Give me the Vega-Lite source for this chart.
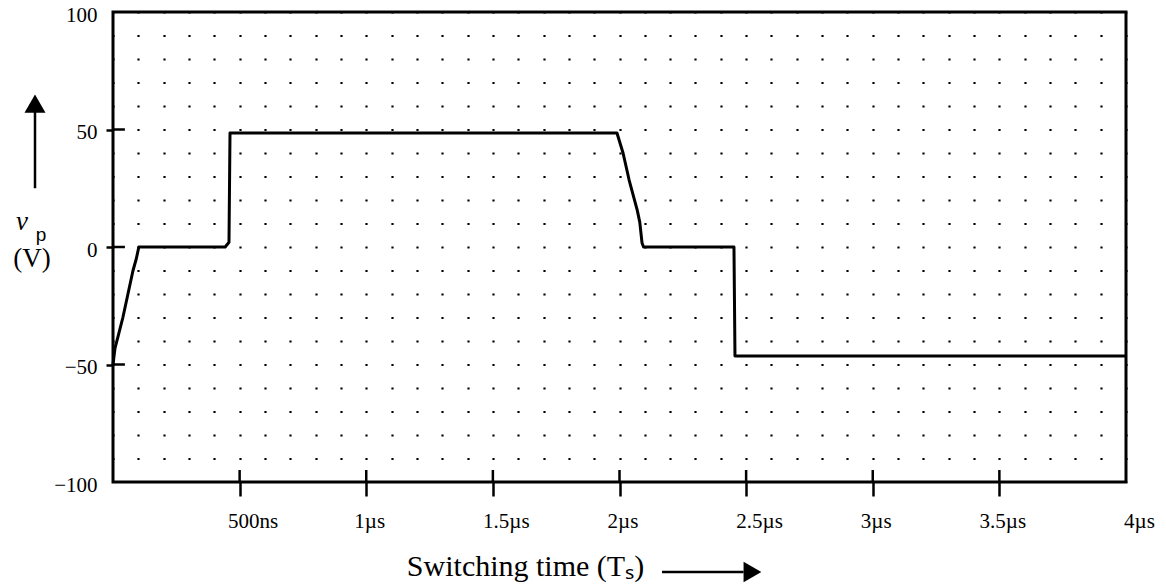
{
  "$schema": "https://vega.github.io/schema/vega-lite/v6.json",
  "width": 1013,
  "height": 470,
  "autosize": {"type": "none"},
  "padding": {"left": 113, "top": 12, "right": 40, "bottom": 103},
  "background": "white",
  "config": {"view": {"stroke": "black", "strokeWidth": 3}, "font": "Liberation Serif"},
  "datasets": {
    "wave": [
      {"t": 0, "v": -50}, {"t": 0.008, "v": -43}, {"t": 0.02, "v": -38}, {"t": 0.039, "v": -30},
      {"t": 0.059, "v": -20}, {"t": 0.079, "v": -10}, {"t": 0.092, "v": -5}, {"t": 0.102, "v": 0},
      {"t": 0.443, "v": 0}, {"t": 0.458, "v": 2}, {"t": 0.462, "v": 48.5}, {"t": 1.99, "v": 48.5},
      {"t": 2.014, "v": 40}, {"t": 2.038, "v": 28.5}, {"t": 2.07, "v": 15.7}, {"t": 2.08, "v": 10.6},
      {"t": 2.089, "v": 1.7}, {"t": 2.095, "v": 0}, {"t": 2.452, "v": 0}, {"t": 2.456, "v": -46.4},
      {"t": 4, "v": -46.4}
    ],
    "xticks": [{"t": 0.5}, {"t": 1}, {"t": 1.5}, {"t": 2}, {"t": 2.5}, {"t": 3}, {"t": 3.5}],
    "yticks": [{"v": 50}, {"v": 0}, {"v": -50}]
  },
  "layer": [
    {
      "data": {"name": "wave"},
      "mark": {"type": "line", "color": "black", "strokeWidth": 3, "strokeJoin": "round"},
      "encoding": {
        "x": {
          "field": "t", "type": "quantitative",
          "scale": {"domain": [0, 4], "nice": false, "zero": false},
          "axis": {
            "values": [0, 0.1, 0.2, 0.3, 0.4, 0.5, 0.6, 0.7, 0.8, 0.9, 1, 1.1, 1.2, 1.3, 1.4, 1.5, 1.6, 1.7, 1.8, 1.9, 2, 2.1, 2.2, 2.3, 2.4, 2.5, 2.6, 2.7, 2.8, 2.9, 3, 3.1, 3.2, 3.3, 3.4, 3.5, 3.6, 3.7, 3.8, 3.9, 4],
            "tickCount": 200,
            "domain": false,
            "grid": true, "gridColor": "#000000", "gridWidth": 2.2, "gridDash": [2.2, 21.3], "gridDashOffset": 1.1,
            "ticks": true, "tickSize": 14, "tickWidth": 2.5, "tickColor": "black",
            "tickOpacity": {"condition": {"test": "datum.value*2 == round(datum.value*2) && datum.value > 0.1 && datum.value < 3.9", "value": 1}, "value": 0},
            "labelExpr": "datum.value == 0.5 ? '500ns' : (datum.value >= 1 && datum.value*2 == round(datum.value*2) ? format(datum.value, '~g') + 'µs' : '')",
            "labelFont": "Liberation Serif", "labelFontSize": 21, "labelColor": "black",
            "labelPadding": 14, "labelBaseline": "top", "labelAlign": "center",
            "labelOffset": {"condition": {"test": "datum.value == 0.5 || datum.value == 1.5 || datum.value == 2.5 || datum.value == 4", "value": 13}, "value": 3},
            "labelOverlap": false, "labelFlush": false,
            "title": "Switching time (Tₛ)", "titleFont": "Liberation Serif", "titleFontSize": 30,
            "titleFontWeight": "normal", "titleColor": "black", "titleX": 412, "titleY": 93,
            "titleAlign": "center", "titleBaseline": "alphabetic"
          }
        },
        "y": {
          "field": "v", "type": "quantitative",
          "scale": {"domain": [-100, 100], "nice": false, "zero": false},
          "axis": {
            "values": [-100, -50, 0, 50, 100],
            "tickCount": 20,
            "domain": false, "grid": false,
            "tickSize": 7, "tickWidth": 2.5, "tickColor": "black",
            "tickOpacity": {"condition": {"test": "abs(datum.value) == 100", "value": 0}, "value": 1},
            "labelFont": "Liberation Serif", "labelFontSize": 21, "labelPadding": 9, "labelColor": "black",
            "labelOffset": 3,
            "labelOverlap": false, "labelFlush": false,
            "title": null
          }
        }
      }
    },
    {
      "data": {"name": "xticks"},
      "mark": {"type": "rule", "color": "black", "strokeWidth": 2.5},
      "encoding": {
        "x": {"field": "t", "type": "quantitative"},
        "y": {"datum": -100},
        "y2": {"datum": -94.9}
      }
    },
    {
      "data": {"name": "yticks"},
      "mark": {"type": "rule", "color": "black", "strokeWidth": 2.5},
      "encoding": {
        "y": {"field": "v", "type": "quantitative"},
        "x": {"datum": 0},
        "x2": {"datum": 0.047}
      }
    },
    {
      "data": {"values": [{}]},
      "mark": {"type": "rule", "color": "black", "strokeWidth": 2.5},
      "encoding": {"x": {"datum": -0.308}, "y": {"datum": 25}, "y2": {"datum": 58}}
    },
    {
      "data": {"values": [{}]},
      "mark": {"type": "point", "shape": "triangle-up", "filled": true, "color": "black", "opacity": 1, "size": 441, "strokeWidth": 0},
      "encoding": {"x": {"datum": -0.308}, "y": {"datum": 61}}
    },
    {
      "data": {"values": [{}]},
      "mark": {"type": "rule", "color": "black", "strokeWidth": 2.5},
      "encoding": {"x": {"datum": 2.168}, "x2": {"datum": 2.49}, "y": {"datum": -138.3}}
    },
    {
      "data": {"values": [{}]},
      "mark": {"type": "point", "shape": "triangle-right", "filled": true, "color": "black", "opacity": 1, "size": 420, "strokeWidth": 0},
      "encoding": {"x": {"datum": 2.525}, "y": {"datum": -138.3}}
    },
    {
      "data": {"values": [{}]},
      "mark": {"type": "text", "text": "v", "font": "Liberation Serif", "fontStyle": "italic", "fontSize": 27, "align": "center", "baseline": "middle", "color": "black"},
      "encoding": {"x": {"datum": -0.359}, "y": {"datum": 10.6}}
    },
    {
      "data": {"values": [{}]},
      "mark": {"type": "text", "text": "p", "font": "Liberation Sans", "fontSize": 19, "align": "center", "baseline": "middle", "color": "black"},
      "encoding": {"x": {"datum": -0.284}, "y": {"datum": 5.1}}
    },
    {
      "data": {"values": [{}]},
      "mark": {"type": "text", "text": "(V)", "font": "Liberation Serif", "fontSize": 27, "align": "center", "baseline": "middle", "color": "black"},
      "encoding": {"x": {"datum": -0.32}, "y": {"datum": -5.1}}
    }
  ]
}
